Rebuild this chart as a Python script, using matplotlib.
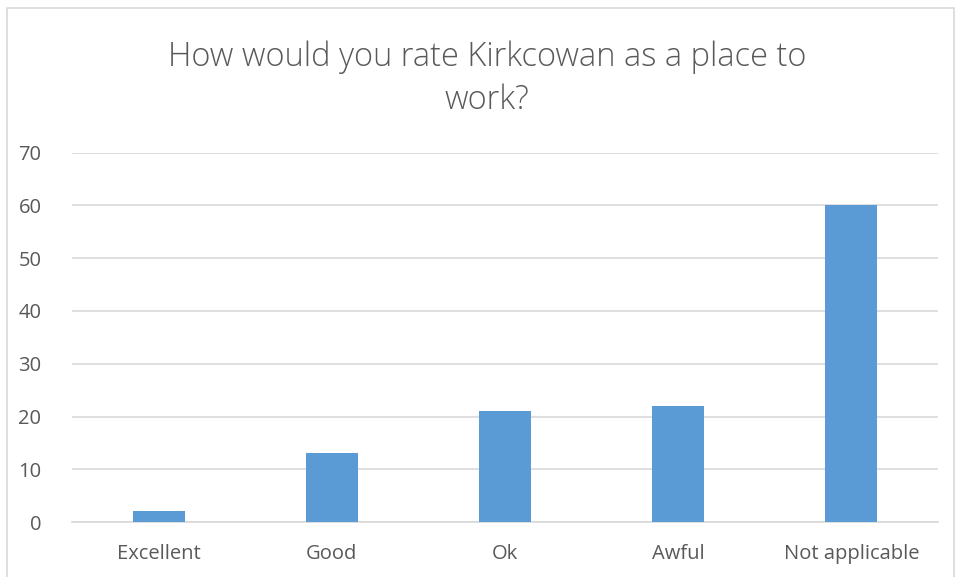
import matplotlib.pyplot as plt
import numpy as np

categories = ["Excellent", "Good", "Ok", "Awful", "Not applicable"]
counts = [2, 13, 21, 22, 60]
yticks = [0, 10, 20, 30, 40, 50, 60, 70]

plt.rcParams['font.family'] = ['Open Sans', 'DejaVu Sans']

fig = plt.figure(figsize=(9.57, 5.77), dpi=100)
ax = fig.add_axes([0.0752, 0.0953, 0.905, 0.640])

x = np.arange(len(categories))
ax.bar(x, counts, width=0.3, color='#5B9BD5', zorder=3)

ax.set_xlim(-0.5, len(categories) - 0.5)
ax.set_ylim(0, 70)
ax.set_yticks(yticks)
ax.set_xticks(x)
ax.set_xticklabels(categories)
ax.tick_params(axis='both', length=0, labelsize=14.5, colors='#595959')
ax.tick_params(axis='y', pad=22)
ax.tick_params(axis='x', pad=16)
ax.grid(axis='y', color='#D9D9D9', linewidth=1.2, zorder=0)
for s in ['top', 'right', 'left']:
    ax.spines[s].set_visible(False)
ax.spines['bottom'].set_color('#D9D9D9')
ax.spines['bottom'].set_linewidth(1.2)

fig.text(0.509, 0.863, "How would you rate Kirkcowan as a place to\nwork?",
         ha='center', va='center', fontsize=23.5, color='#595959',
         fontweight='light', linespacing=1.38)

# outer frame
fig.patches.append(plt.Rectangle((0.007, -0.01), 0.99, 0.996, transform=fig.transFigure,
                                 fill=False, edgecolor='#D9D9D9', linewidth=1.2))

fig.savefig('out.png', dpi=100)
